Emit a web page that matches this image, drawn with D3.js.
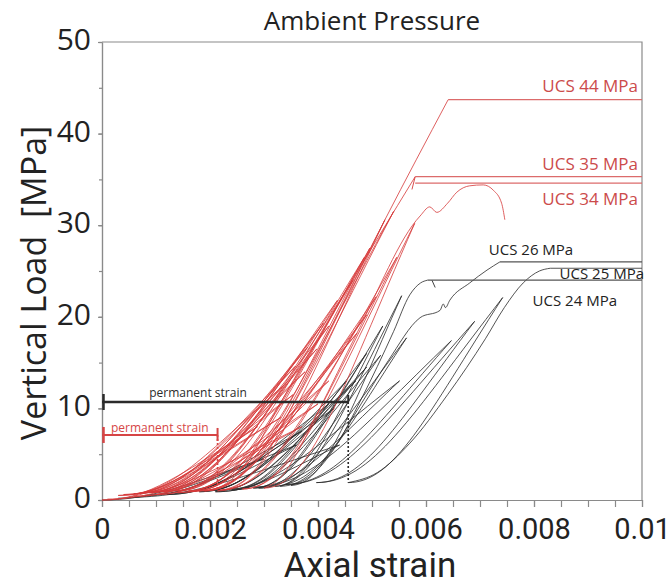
<!DOCTYPE html>
<html>
<head>
  <meta charset="utf-8">
  <title>Ambient Pressure</title>
  <script src="https://d3js.org/d3.v7.min.js"></script>
  <style>
    body { margin: 0; background: #fff; }
    text { font-family: "Open Sans", sans-serif; }
  </style>
</head>
<body>
<script>
// tick labels
const xTicks = [0, 0.002, 0.004, 0.006, 0.008, 0.01];
const xTickLabels = ["0", "0.002", "0.004", "0.006", "0.008", "0.01"];
const yTicks = [0, 10, 20, 30, 40, 50];
const yTickLabels = ["0", "10", "20", "30", "40", "50"];

// samples
const samples = ["UCS 44 MPa", "UCS 35 MPa", "UCS 34 MPa", "UCS 26 MPa", "UCS 25 MPa", "UCS 24 MPa"];
const ucsValues = [43.7, 35.3, 34.6, 26.0, 25.3, 24.0];      // plateau load
const ucsStart = [0.00641, 0.0058, 0.0058, 0.00737, 0.0083, 0.00603]; // strain where plateau starts

// loading cycles: [start strain, start load, peak strain, peak load]
const r44Cycles = [
  [0, 0, 0.00331, 9.0],
  [0.0003, 0.5, 0.00354, 11.5],
  [0.0006, 0.7, 0.00376, 14.0],
  [0.0008, 0.8, 0.00398, 16.5],
  [0.0010, 0.9, 0.00420, 19.0],
  [0.0013, 1.0, 0.00465, 24.0],
  [0.0016, 1.0, 0.00496, 27.5],
  [0.0019, 1.0, 0.00524, 30.6]
];
const r35Cycles = [
  [0, 0, 0.00288, 8.0],
  [0.0004, 0.6, 0.00336, 12.5],
  [0.0006, 0.7, 0.00358, 14.6],
  [0.0008, 0.8, 0.00381, 16.7],
  [0.00095, 0.85, 0.0041, 19.3],
  [0.0011, 0.9, 0.00436, 21.8],
  [0.0014, 1.0, 0.00486, 26.5],
  [0.0017, 1.0, 0.00540, 31.5]
];
const r34Cycles = [
  [0.0001, 0.1, 0.0037, 8.0],
  [0.0006, 0.4, 0.0040, 10.5],
  [0.0010, 0.6, 0.0042, 13.0],
  [0.0014, 0.8, 0.00472, 18.2],
  [0.0016, 0.9, 0.0049, 20.2],
  [0.0018, 1.0, 0.00508, 22.2],
  [0.0022, 1.1, 0.00546, 26.5],
  [0.0026, 1.2, 0.00579, 30.2]
];
const b26Cycles = [
  [0.0003, 0.2, 0.0036, 6.0],
  [0.0012, 0.6, 0.0043, 10.0],
  [0.0018, 0.9, 0.0047, 13.0],
  [0.0021, 1.0, 0.0049, 14.5],
  [0.0024, 1.1, 0.00516, 15.8],
  [0.0029, 1.3, 0.00564, 17.7]
];
const b25Cycles = [
  [0.0005, 0.3, 0.0044, 6.0],
  [0.0021, 0.9, 0.00551, 13.0],
  [0.0028, 1.4, 0.00647, 17.4],
  [0.0034, 1.7, 0.0069, 19.5],
  [0.00397, 1.9, 0.00742, 22.1]
];
const b24Cycles = [
  [0, 0, 0.0030, 4.5],
  [0.0008, 0.5, 0.0037, 7.5],
  [0.0014, 0.8, 0.0042, 10.5],
  [0.0019, 1.0, 0.00453, 13.0],
  [0.0024, 1.2, 0.0049, 16.0],
  [0.0028, 1.3, 0.0052, 19.0],
  [0.0032, 1.5, 0.00555, 22.3]
];

// last loading to failure: [strain, load]
const r44Final = [[0.00214, 1.0], [0.0026, 2.0], [0.0030, 4.6], [0.0035, 10.0], [0.00524, 30.6], [0.00641, 43.7]];
const r35Final = [[0.0019, 1.0], [0.0023, 1.8], [0.0027, 4.2], [0.0032, 9.5], [0.0058, 35.3]];
const r34Final = [[0.0030, 1.3], [0.0033, 2.4], [0.0036, 5.0], [0.0040, 9.6], [0.00472, 18.2], [0.00589, 31.0],
  [0.00607, 32.0], [0.0062, 31.4], [0.0064, 32.4], [0.00657, 33.6], [0.00681, 34.3], [0.00706, 34.4],
  [0.00725, 33.8], [0.0074, 32.4], [0.00746, 30.6]];
const b26Final = [[0.0033, 1.5], [0.0038, 2.8], [0.0043, 5.8], [0.0048, 10.5], [0.0053, 15.2], [0.00589, 19.9],
  [0.00626, 20.7], [0.00632, 21.4], [0.00636, 21.0], [0.00644, 21.8], [0.00681, 23.7], [0.00713, 25.1], [0.00737, 26.0]];
const b25Final = [[0.00456, 1.9], [0.0051, 3.0], [0.0057, 6.2], [0.0064, 11.5], [0.0071, 17.6], [0.00745, 21.0],
  [0.0078, 23.7], [0.0081, 25.0], [0.0083, 25.3]];
const b24Final = [[0.0035, 1.6], [0.0039, 2.8], [0.0043, 5.6], [0.0048, 11.0], [0.0054, 18.4], [0.0057, 22.4],
  [0.0059, 23.7], [0.00603, 24.0]];

// small drops after the peak: [strain, load] pairs
const r35Drop = [[0.0058, 35.3], [0.00574, 33.9]];
const b24Drop = [[0.00611, 24.0], [0.00617, 23.2]];

// permanent strain markers (black, red)
const permStrain = [0.00456, 0.00214];
const permLoad = [10.7, 7.1];
const permBottom = [1.9, 1.1];

const width = 670, height = 586;
const red = "#d63a3a", black = "#2b2b2b", grey = "#8a8a8a";

let svg = d3.select("body").append("svg")
  .attr("width", width)
  .attr("height", height);

let x = d3.scaleLinear().domain([0, 0.01]).range([102, 642]);
let y = d3.scaleLinear().domain([0, 50]).range([500, 42]);

// frame (top + right)
svg.append("path")
  .attr("d", `M${x(0)},${y(50)}H${x(0.01)}V${y(0)}`)
  .attr("fill", "none").attr("stroke", grey).attr("stroke-width", 1.2);

// axes
let xMinor = svg.append("g").attr("transform", `translate(0,${y(0)})`)
  .call(d3.axisBottom(x).tickValues(x.ticks(20)).tickSize(7).tickSizeOuter(0).tickFormat(""));
let xAxis = svg.append("g").attr("transform", `translate(0,${y(0)})`)
  .call(d3.axisBottom(x).tickValues(xTicks).tickSize(7).tickSizeOuter(0).tickPadding(12)
    .tickFormat((d, i) => xTickLabels[i]));
let yMinor = svg.append("g").attr("transform", `translate(${x(0)},0)`)
  .call(d3.axisLeft(y).tickValues(y.ticks(10)).tickSize(3).tickSizeOuter(0).tickFormat(""));
let yAxis = svg.append("g").attr("transform", `translate(${x(0)},0)`)
  .call(d3.axisLeft(y).tickValues(yTicks).tickSize(4).tickSizeOuter(0).tickPadding(7)
    .tickFormat((d, i) => yTickLabels[i]));

svg.selectAll(".domain, .tick line").attr("stroke", grey).attr("stroke-width", 1.2);
xAxis.selectAll("text").style("font-family", "Roboto, sans-serif")
  .attr("font-size", 29).attr("fill", "#222").attr("dy", "0.68em");
yAxis.selectAll("text").attr("font-size", 30).attr("fill", "#222").attr("dy", "0.25em");

// a smooth load branch between a low point and a peak
function branch(p, s0, l0, s1, l1, reverse) {
  const X0 = x(s0), Y0 = y(l0), X1 = x(s1), Y1 = y(l1);
  const dX = X1 - X0, dY = Y1 - Y0;
  const c1 = [X0 + 0.3 * dX, Y0], c2 = [X0 + 0.5 * dX, Y0 + 0.35 * dY];
  if (!reverse) p.bezierCurveTo(c1[0], c1[1], c2[0], c2[1], X1, Y1);
  else p.bezierCurveTo(c2[0], c2[1], c1[0], c1[1], X0, Y0);
}

let finalLine = d3.line().x(d => x(d[0])).y(d => y(d[1])).curve(d3.curveMonotoneX);

function drawSample(cycles, final, color) {
  const p = d3.path();
  p.moveTo(x(cycles[0][0]), y(cycles[0][1]));
  cycles.forEach((c, i) => {
    branch(p, c[0], c[1], c[2], c[3], false);           // reload
    const next = i < cycles.length - 1 ? cycles[i + 1] : final[0];
    branch(p, next[0], next[1], c[2], c[3], true);      // unload
  });
  svg.append("path").attr("d", p.toString())
    .attr("fill", "none").attr("stroke", color).attr("stroke-width", 0.9).attr("opacity", 0.9);
  svg.append("path").attr("d", finalLine(final))
    .attr("fill", "none").attr("stroke", color).attr("stroke-width", 0.9).attr("opacity", 0.9);
}

drawSample(b24Cycles, b24Final, black);
drawSample(b26Cycles, b26Final, black);
drawSample(b25Cycles, b25Final, black);
drawSample(r34Cycles, r34Final, red);
drawSample(r35Cycles, r35Final, red);
drawSample(r44Cycles, r44Final, red);

let straight = d3.line().x(d => x(d[0])).y(d => y(d[1]));
svg.append("path").attr("d", straight(r35Drop)).attr("fill", "none").attr("stroke", red).attr("stroke-width", 0.9);
svg.append("path").attr("d", straight(b24Drop)).attr("fill", "none").attr("stroke", black).attr("stroke-width", 0.9);

// UCS plateaus + labels
const labelStyle = [
  { anchor: "end", dx: -4, dy: -8, size: 17 },
  { anchor: "end", dx: -4, dy: -7, size: 17 },
  { anchor: "end", dx: -4, dy: 22, size: 17 },
  { anchor: "middle", dx: -111, dy: -7, size: 15 },
  { anchor: "end", dx: 2, dy: 11, size: 15 },
  { anchor: "end", dx: -25, dy: 26, size: 15 }
];
samples.forEach((name, i) => {
  const col = i < 3 ? "#dc6b6b" : "#555";
  svg.append("line")
    .attr("x1", x(ucsStart[i])).attr("x2", x(0.01))
    .attr("y1", y(ucsValues[i])).attr("y2", y(ucsValues[i]))
    .attr("stroke", col).attr("stroke-width", 1.2);
  const st = labelStyle[i];
  svg.append("text")
    .attr("x", x(0.01) + st.dx).attr("y", y(ucsValues[i]) + st.dy)
    .attr("text-anchor", st.anchor).attr("font-size", st.size)
    .attr("fill", i < 3 ? "#cc4b4b" : "#222")
    .text(name);
});

// permanent strain markers
const markColor = [black, "#d64545"];
const markWidth = [2.6, 2];
const markLabelDy = [-5, -3];
permStrain.forEach((s, i) => {
  const yy = y(permLoad[i]);
  svg.append("line").attr("x1", x(0)).attr("x2", x(s)).attr("y1", yy).attr("y2", yy)
    .attr("stroke", markColor[i]).attr("stroke-width", markWidth[i]);
  svg.append("line").attr("x1", x(0) + 1.5).attr("x2", x(0) + 1.5).attr("y1", yy - 8).attr("y2", yy + 8)
    .attr("stroke", markColor[i]).attr("stroke-width", 2.5);
  svg.append("line").attr("x1", x(s)).attr("x2", x(s)).attr("y1", yy - 7).attr("y2", i === 0 ? yy : yy + 6)
    .attr("stroke", markColor[i]).attr("stroke-width", 2);
  svg.append("line").attr("x1", x(s)).attr("x2", x(s)).attr("y1", yy).attr("y2", y(permBottom[i]))
    .attr("stroke", markColor[i]).attr("stroke-width", 1.6).attr("stroke-dasharray", "2,2");
  svg.append("text")
    .attr("x", i === 0 ? 198 : (x(0) + x(s)) / 2).attr("y", yy + markLabelDy[i])
    .attr("text-anchor", "middle").attr("font-size", 12).attr("fill", markColor[i])
    .text("permanent strain");
});

// titles
svg.append("text").attr("x", 372).attr("y", 30).attr("text-anchor", "middle")
  .attr("font-size", 26).attr("fill", "#222").text("Ambient Pressure");
svg.append("text").attr("x", 370).attr("y", 577).attr("text-anchor", "middle")
  .style("font-family", "Roboto, sans-serif")
  .attr("font-size", 35).attr("fill", "#222").text("Axial strain");
svg.append("text").attr("transform", "translate(46,283) rotate(-90)").attr("text-anchor", "middle")
  .style("white-space", "pre")
  .attr("font-size", 34).attr("fill", "#222").text("Vertical Load  [MPa]");
</script>
</body>
</html>
